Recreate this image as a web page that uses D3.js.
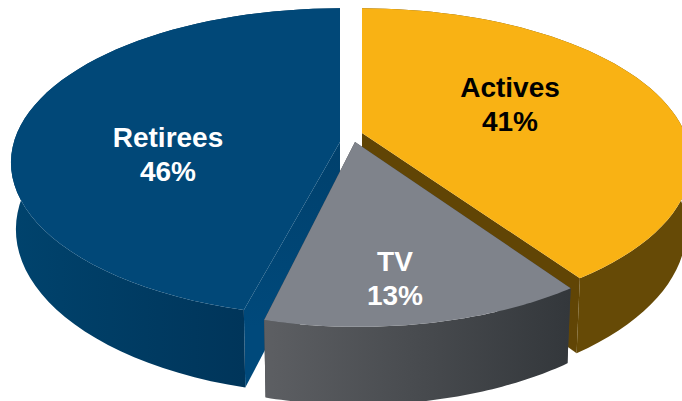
<!DOCTYPE html>
<html>
<head>
<meta charset="utf-8">
<script src="https://cdn.jsdelivr.net/npm/d3@7"></script>
<style>
  html, body { margin: 0; padding: 0; background: #fff; overflow: hidden; }
  svg { display: block; }
  text { font-family: "Liberation Sans", Arial, sans-serif; font-weight: 700; font-size: 28px; text-anchor: middle; }
</style>
</head>
<body>
<div id="chart"></div>
<script>
// Chart data
const categories = ['Actives', 'TV', 'Retirees'];
const shares = [41, 13, 46];

// Styles, in the same order as categories
const topColors = ['#f9b214', '#7f838b', '#014878'];
const sideColors = [
  ['#664a06', '#664a06'],
  ['#5d5f63', '#33373b'],
  ['#00436d', '#00355a'],
];
const cutColors = ['#614505', '#3a3d40', '#00497b'];
const cutTopColors = ['#614505', '#3a3d40', '#003f6a'];
const textColors = ['#000', '#fff', '#fff'];

// Layout: where each exploded slice sits and where its label goes
const sliceOffsets = [[362, 137], [358, 147], [340, 137]];
const apexShifts = [[0, -4], [-3, -5], [0, 5]]; // the tip sits a little off the disc centre
const sliceScales = [1.04, 1.015, 1.04];
const labelOffsets = [[510, 97], [395, 271], [168, 147]];
const lineGap = 34;

const width = 682;
const height = 401;
const radiusX = 312;
const radiusY = 150;
const perspective = 0.166; // how much the near side of the disc grows
const depth = 65; // thickness of the pie
const baseShrink = 0.985; // the lower rim looks a bit narrower

const svg = d3.select('#chart').append('svg')
  .attr('width', width)
  .attr('height', height)
  .attr('viewBox', `0 0 ${width} ${height}`);
const defs = svg.append('defs');

const xScale = d3.scaleLinear().domain([-1, 1]).range([-radiusX, radiusX]);
const yScale = d3.scaleLinear().domain([-1, 1]).range([-radiusY, radiusY]);

const arcs = d3.pie().sort(null).value((d) => d)(shares);

// The picture's 3D view squeezes the first boundary forward a little
const viewAngle = d3.scaleLinear()
  .domain([0, arcs[1].startAngle, arcs[2].startAngle, 2 * Math.PI])
  .range([0, (144.5 * Math.PI) / 180, arcs[2].startAngle, 2 * Math.PI]);

// Project a point of the disc (angle clockwise from 12 o'clock, r 0..1)
function project(angle, r, bottom, k) {
  const a = viewAngle(angle);
  const u = Math.sin(a) * r;
  const d = -Math.cos(a) * r;
  const s = 1 / (1 - perspective * d);
  return [
    xScale(u) * k * s * (bottom ? baseShrink : 1),
    yScale(d) * s + (bottom ? depth * s : 0),
  ];
}

function rim(start, end, bottom, k) {
  return d3.range(0, 61).map((i) => project(start + ((end - start) * i) / 60, 1, bottom, k));
}

const line = d3.line().curve(d3.curveLinear);
const closed = (points) => `${line(points)}Z`;

function gradient(id, colors, x1, y1, x2, y2) {
  const g = defs.append('linearGradient')
    .attr('id', id)
    .attr('gradientUnits', 'userSpaceOnUse')
    .attr('x1', x1).attr('y1', y1)
    .attr('x2', x2).attr('y2', y2);
  g.append('stop').attr('offset', 0).attr('stop-color', colors[0]);
  g.append('stop').attr('offset', 1).attr('stop-color', colors[1]);
  return `url(#${id})`;
}

// Back to front: retirees, actives, then TV on top
[2, 0, 1].forEach((i) => {
  const { startAngle, endAngle } = arcs[i];
  const [ox, oy] = sliceOffsets[i];
  const [ax, ay] = apexShifts[i];
  const k = sliceScales[i];
  const g = svg.append('g').attr('transform', `translate(${ox},${oy})`);

  const apexTop = [ax, ay];
  const apexBottom = [ax, ay + depth];

  // Cut faces
  [startAngle, endAngle].forEach((angle, n) => {
    const outerTop = project(angle, 1, false, k);
    const outerBottom = project(angle, 1, true, k);
    g.append('path')
      .attr('d', closed([apexTop, outerTop, outerBottom, apexBottom]))
      .attr('fill', gradient(`cut-${i}-${n}`, [cutTopColors[i], cutColors[i]], 0, -20, 0, apexBottom[1] + 120));
  });

  // Outer wall
  const topRim = rim(startAngle, endAngle, false, k);
  const bottomRim = rim(startAngle, endAngle, true, k);
  const xs = d3.extent(topRim.filter((p) => p[1] > -10), (p) => p[0]);
  g.append('path')
    .attr('d', closed(topRim.concat(bottomRim.slice().reverse())))
    .attr('fill', gradient(`side-${i}`, sideColors[i], xs[0], 0, xs[1], 0));

  // Top face
  g.append('path')
    .attr('d', closed([apexTop].concat(topRim)))
    .attr('fill', topColors[i]);
});

// Labels
categories.forEach((name, i) => {
  const [lx, ly] = labelOffsets[i];
  const label = svg.append('text').attr('fill', textColors[i]);
  label.append('tspan').attr('x', lx).attr('y', ly).text(name);
  label.append('tspan').attr('x', lx).attr('y', ly + lineGap).text(`${shares[i]}%`);
});
</script>
</body>
</html>
